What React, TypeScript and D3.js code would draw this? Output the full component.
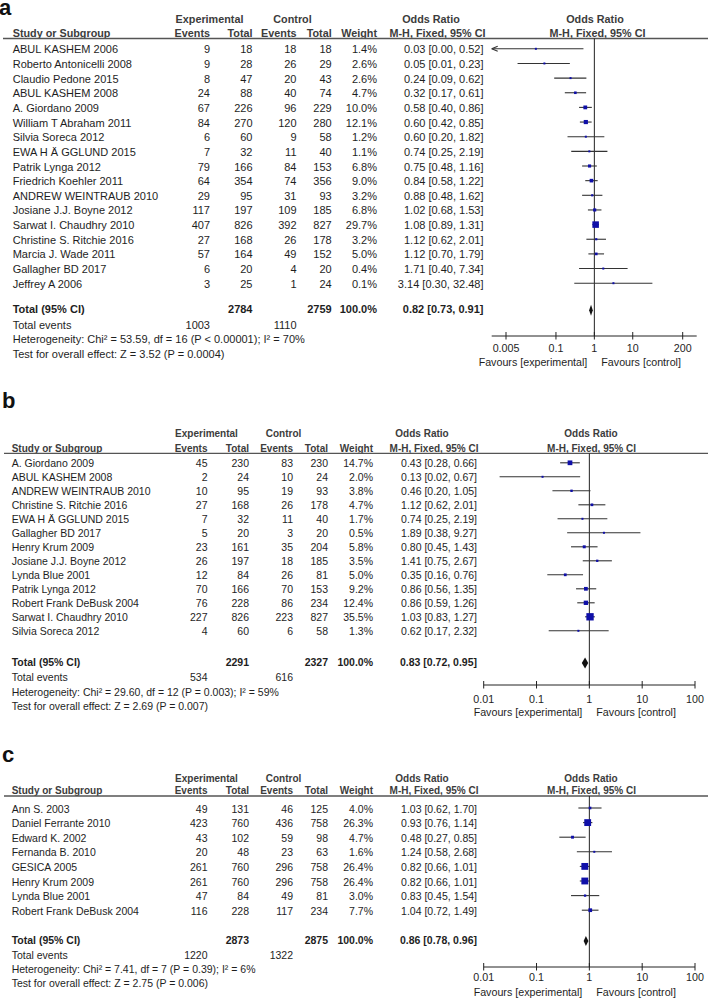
import React from "react";
import * as d3 from "d3";

// ---------- Panel a data ----------
const studiesA = [
  "ABUL KASHEM 2006", "Roberto Antonicelli 2008", "Claudio Pedone 2015", "ABUL KASHEM  2008",
  "A. Giordano 2009", "William T Abraham 2011", "Silvia Soreca 2012", "EWA H Ä GGLUND 2015",
  "Patrik Lynga 2012", "Friedrich Koehler  2011", "ANDREW WEINTRAUB 2010", "Josiane J.J. Boyne 2012",
  "Sarwat I. Chaudhry 2010", "Christine S. Ritchie 2016", "Marcia J. Wade 2011", "Gallagher BD 2017",
  "Jeffrey A  2006",
];
const expEventsA = [9, 9, 8, 24, 67, 84, 6, 7, 79, 64, 29, 117, 407, 27, 57, 6, 3];
const expTotalA = [18, 28, 47, 88, 226, 270, 60, 32, 166, 354, 95, 197, 826, 168, 164, 20, 25];
const ctlEventsA = [18, 26, 20, 40, 96, 120, 9, 11, 84, 74, 31, 109, 392, 26, 49, 4, 1];
const ctlTotalA = [18, 29, 43, 74, 229, 280, 58, 40, 153, 356, 93, 185, 827, 178, 152, 20, 24];
const weightA = [1.4, 2.6, 2.6, 4.7, 10.0, 12.1, 1.2, 1.1, 6.8, 9.0, 3.2, 6.8, 29.7, 3.2, 5.0, 0.4, 0.1];
const orA = [0.03, 0.05, 0.24, 0.32, 0.58, 0.6, 0.6, 0.74, 0.75, 0.84, 0.88, 1.02, 1.08, 1.12, 1.12, 1.71, 3.14];
const loA = [0.0, 0.01, 0.09, 0.17, 0.4, 0.42, 0.2, 0.25, 0.48, 0.58, 0.48, 0.68, 0.89, 0.62, 0.7, 0.4, 0.3];
const hiA = [0.52, 0.23, 0.62, 0.61, 0.86, 0.85, 1.82, 2.19, 1.16, 1.22, 1.62, 1.53, 1.31, 2.01, 1.79, 7.34, 32.48];
const totalsA = [2784, 2759];
const totalEventsA = [1003, 1110];
const totalOrA = [0.82, 0.73, 0.91];
const hetA = "Heterogeneity: Chi² = 53.59, df = 16 (P < 0.00001); I² = 70%";
const testA = "Test for overall effect: Z = 3.52 (P = 0.0004)";
const ticksA = [0.005, 0.1, 1, 10, 200];
const tickLabelsA = ["0.005", "0.1", "1", "10", "200"];

// ---------- Panel b data ----------
const studiesB = [
  "A. Giordano 2009", "ABUL KASHEM  2008", "ANDREW WEINTRAUB 2010", "Christine S. Ritchie 2016",
  "EWA H Ä GGLUND 2015", "Gallagher BD 2017", "Henry Krum 2009", "Josiane J.J. Boyne 2012",
  "Lynda Blue 2001", "Patrik Lynga 2012", "Robert Frank DeBusk 2004", "Sarwat I. Chaudhry 2010",
  "Silvia Soreca 2012",
];
const expEventsB = [45, 2, 10, 27, 7, 5, 23, 26, 12, 70, 76, 227, 4];
const expTotalB = [230, 24, 95, 168, 32, 20, 161, 197, 84, 166, 228, 826, 60];
const ctlEventsB = [83, 10, 19, 26, 11, 3, 35, 18, 26, 70, 86, 223, 6];
const ctlTotalB = [230, 24, 93, 178, 40, 20, 204, 185, 81, 153, 234, 827, 58];
const weightB = [14.7, 2.0, 3.8, 4.7, 1.7, 0.5, 5.8, 3.5, 5.0, 9.2, 12.4, 35.5, 1.3];
const orB = [0.43, 0.13, 0.46, 1.12, 0.74, 1.89, 0.8, 1.41, 0.35, 0.86, 0.86, 1.03, 0.62];
const loB = [0.28, 0.02, 0.2, 0.62, 0.25, 0.38, 0.45, 0.75, 0.16, 0.56, 0.59, 0.83, 0.17];
const hiB = [0.66, 0.67, 1.05, 2.01, 2.19, 9.27, 1.43, 2.67, 0.76, 1.35, 1.26, 1.27, 2.32];
const totalsB = [2291, 2327];
const totalEventsB = [534, 616];
const totalOrB = [0.83, 0.72, 0.95];
const hetB = "Heterogeneity: Chi² = 29.60, df = 12 (P = 0.003); I² = 59%";
const testB = "Test for overall effect: Z = 2.69 (P = 0.007)";
const ticksB = [0.01, 0.1, 1, 10, 100];
const tickLabelsB = ["0.01", "0.1", "1", "10", "100"];

// ---------- Panel c data ----------
const studiesC = [
  "Ann S. 2003", "Daniel Ferrante 2010", "Edward K. 2002", "Fernanda B.  2010",
  "GESICA 2005", "Henry Krum 2009", "Lynda Blue 2001", "Robert Frank DeBusk 2004",
];
const expEventsC = [49, 423, 43, 20, 261, 261, 47, 116];
const expTotalC = [131, 760, 102, 48, 760, 760, 84, 228];
const ctlEventsC = [46, 436, 59, 23, 296, 296, 49, 117];
const ctlTotalC = [125, 758, 98, 63, 758, 758, 81, 234];
const weightC = [4.0, 26.3, 4.7, 1.6, 26.4, 26.4, 3.0, 7.7];
const orC = [1.03, 0.93, 0.48, 1.24, 0.82, 0.82, 0.83, 1.04];
const loC = [0.62, 0.76, 0.27, 0.58, 0.66, 0.66, 0.45, 0.72];
const hiC = [1.7, 1.14, 0.85, 2.68, 1.01, 1.01, 1.54, 1.49];
const totalsC = [2873, 2875];
const totalEventsC = [1220, 1322];
const totalOrC = [0.86, 0.78, 0.96];
const hetC = "Heterogeneity: Chi² = 7.41, df = 7 (P = 0.39); I² = 6%";
const testC = "Test for overall effect: Z = 2.75 (P = 0.006)";
const ticksC = [0.01, 0.1, 1, 10, 100];
const tickLabelsC = ["0.01", "0.1", "1", "10", "100"];

const FONT = "'Liberation Sans', Arial, Helvetica, sans-serif";
const TEXT = "#1e1e1e";
const HEAD = "#3c3c3c";
const BLUE = "#0f0fa8";

const fmt2 = (v: number) => v.toFixed(2);
const orText = (o: number, l: number, h: number) => `${fmt2(o)} [${fmt2(l)}, ${fmt2(h)}]`;

function Panel({ d, L }: { d: any; L: any }) {
  const x = d3.scaleLog().domain([d.ticks[0], d.ticks[d.ticks.length - 1]]).range(L.range);
  const axL = L.range[0] - L.pad[0];
  const axR = L.range[1] + L.pad[1];
  const sq = d3.scaleSqrt().domain([0, 36]).range([0, L.sqMax]);
  const rowY = (i: number) => L.row0 + i * L.rowStep;
  const x1 = x(1);
  const fs = L.font;
  const T = (props: any) => (
    <text fontFamily={FONT} fontSize={fs} fill={TEXT} {...props} />
  );
  const H = (props: any) => (
    <text fontFamily={FONT} fontSize={L.hfont} fontWeight="bold" fill={HEAD} {...props} />
  );
  const C = L.cols;
  return (
    <g>
      <text x={L.letterX} y={L.letterY} fontFamily={FONT} fontSize={22} fontWeight="bold" fill="#111">
        {d.label}
      </text>
      {/* header */}
      <H x={L.h1.exp} y={L.h1Y} textAnchor="middle">Experimental</H>
      <H x={L.h1.ctl} y={L.h1Y} textAnchor="middle">Control</H>
      <H x={L.h1.orCol} y={L.h1Y} textAnchor="middle">Odds Ratio</H>
      <H x={L.h1.orPlot} y={L.h1Y} textAnchor="middle">Odds Ratio</H>
      <H x={C.name} y={L.h2Y}>Study or Subgroup</H>
      <H x={C.expEv} y={L.h2Y} textAnchor="end">Events</H>
      <H x={C.expTot} y={L.h2Y} textAnchor="end">Total</H>
      <H x={C.ctlEv} y={L.h2Y} textAnchor="end">Events</H>
      <H x={C.ctlTot} y={L.h2Y} textAnchor="end">Total</H>
      <H x={C.weight} y={L.h2Y} textAnchor="end">Weight</H>
      <H x={L.h2.mhCol} y={L.h2Y} textAnchor="middle">M-H, Fixed, 95% CI</H>
      <H x={L.h2.mhPlot} y={L.h2Y} textAnchor="middle">M-H, Fixed, 95% CI</H>
      <line x1={L.lineX0} x2={708} y1={L.lineY} y2={L.lineY} stroke="#555" strokeWidth={1.3} />
      {/* rows */}
      {d.studies.map((s: string, i: number) => {
        const y = rowY(i);
        return (
          <g key={i}>
            <T x={C.name} y={y}>{s}</T>
            <T x={C.expEv} y={y} textAnchor="end">{d.expEv[i]}</T>
            <T x={C.expTot} y={y} textAnchor="end">{d.expTot[i]}</T>
            <T x={C.ctlEv} y={y} textAnchor="end">{d.ctlEv[i]}</T>
            <T x={C.ctlTot} y={y} textAnchor="end">{d.ctlTot[i]}</T>
            <T x={C.weight} y={y} textAnchor="end">{d.weight[i].toFixed(1)}%</T>
            <T x={C.or} y={y} textAnchor="end">{orText(d.or[i], d.lo[i], d.hi[i])}</T>
          </g>
        );
      })}
      {/* totals */}
      <T x={C.name} y={L.totalY} fontWeight="bold">Total (95% CI)</T>
      <T x={C.expTot} y={L.totalY} textAnchor="end" fontWeight="bold">{d.totals[0]}</T>
      <T x={C.ctlTot} y={L.totalY} textAnchor="end" fontWeight="bold">{d.totals[1]}</T>
      <T x={C.weight} y={L.totalY} textAnchor="end" fontWeight="bold">100.0%</T>
      <T x={C.or} y={L.totalY} textAnchor="end" fontWeight="bold">
        {orText(d.totalOr[0], d.totalOr[1], d.totalOr[2])}
      </T>
      <T x={C.name} y={L.teY}>Total events</T>
      <T x={C.expEv} y={L.teY} textAnchor="end">{d.totalEvents[0]}</T>
      <T x={C.ctlEv} y={L.teY} textAnchor="end">{d.totalEvents[1]}</T>
      <T x={C.name} y={L.hetY}>{d.het}</T>
      <T x={C.name} y={L.testY}>{d.test}</T>
      {/* plot */}
      <line x1={x1} x2={x1} y1={L.lineY} y2={L.axisY} stroke="#222" strokeWidth={1} />
      {d.studies.map((s: string, i: number) => {
        const y = rowY(i) + L.markDy;
        const clipped = !(d.lo[i] > 0) || x(d.lo[i]) < axL;
        const xl = clipped ? axL : x(d.lo[i]);
        const xh = Math.min(x(d.hi[i]), axR);
        const side = Math.max(2, sq(d.weight[i]));
        return (
          <g key={"m" + i}>
            <line x1={xl} x2={xh} y1={y} y2={y} stroke="#333" strokeWidth={1.1} />
            {clipped && (
              <path d={`M${xl},${y} L${xl + 6},${y - 2.5} M${xl},${y} L${xl + 6},${y + 2.5}`} stroke="#333" strokeWidth={1.1} fill="none" />
            )}
            <rect x={x(d.or[i]) - side / 2} y={y - side / 2} width={side} height={side} fill={BLUE} />
          </g>
        );
      })}
      {(() => {
        const y = L.totalY + L.diaDy;
        const [o, l, h] = d.totalOr;
        return (
          <path
            d={`M${x(l)},${y} L${x(o)},${y - L.diaH} L${x(h)},${y} L${x(o)},${y + L.diaH} Z`}
            fill="#111"
          />
        );
      })()}
      {/* axis */}
      <line x1={axL} x2={axR} y1={L.axisY} y2={L.axisY} stroke="#222" strokeWidth={1} />
      {d.ticks.map((t: number, i: number) => (
        <g key={"t" + i}>
          <line x1={x(t)} x2={x(t)} y1={L.axisY - 4} y2={L.axisY + 3.5} stroke="#222" strokeWidth={1} />
          <T x={x(t)} y={L.tickY} textAnchor="middle" fontSize={L.afont}>{d.tickLabels[i]}</T>
        </g>
      ))}
      <T x={x1 - 7} y={L.favY} textAnchor="end" fontSize={L.afont}>Favours [experimental]</T>
      <T x={x1 + 7} y={L.favY} fontSize={L.afont}>Favours [control]</T>
    </g>
  );
}

const dataA = {
  label: "a", studies: studiesA, expEv: expEventsA, expTot: expTotalA, ctlEv: ctlEventsA, ctlTot: ctlTotalA,
  weight: weightA, or: orA, lo: loA, hi: hiA, totals: totalsA, totalEvents: totalEventsA, totalOr: totalOrA,
  het: hetA, test: testA, ticks: ticksA, tickLabels: tickLabelsA,
};
const dataB = {
  label: "b", studies: studiesB, expEv: expEventsB, expTot: expTotalB, ctlEv: ctlEventsB, ctlTot: ctlTotalB,
  weight: weightB, or: orB, lo: loB, hi: hiB, totals: totalsB, totalEvents: totalEventsB, totalOr: totalOrB,
  het: hetB, test: testB, ticks: ticksB, tickLabels: tickLabelsB,
};
const dataC = {
  label: "c", studies: studiesC, expEv: expEventsC, expTot: expTotalC, ctlEv: ctlEventsC, ctlTot: ctlTotalC,
  weight: weightC, or: orC, lo: loC, hi: hiC, totals: totalsC, totalEvents: totalEventsC, totalOr: totalOrC,
  het: hetC, test: testC, ticks: ticksC, tickLabels: tickLabelsC,
};

const layoutA = {
  letterX: -1, letterY: 14.5, h1Y: 23, h2Y: 37.3, lineY: 38.5, lineX0: 3,
  row0: 53.3, rowStep: 14.65, totalY: 313.3, teY: 329, hetY: 343.3, testY: 358,
  axisY: 336, tickY: 351.5, favY: 366, font: 11, hfont: 10.8, afont: 10.7,
  cols: { name: 12.7, expEv: 210, expTot: 252.5, ctlEv: 296.5, ctlTot: 331.7, weight: 377, or: 483.5 },
  h1: { exp: 209.5, ctl: 292.5, orCol: 431, orPlot: 595 },
  h2: { mhCol: 437.5, mhPlot: 597.5 },
  range: [506, 682.7], pad: [14.3, 14], markDy: -4.5, sqMax: 7.2, diaDy: -3, diaH: 5.5,
};
const layoutB = {
  letterX: 2, letterY: 408, h1Y: 437, h2Y: 452, lineY: 453.3, lineX0: 4,
  row0: 467.3, rowStep: 14.0, totalY: 666, teY: 681, hetY: 696, testY: 710,
  axisY: 685, tickY: 703, favY: 716, font: 10.5, hfont: 10, afont: 10.7,
  cols: { name: 11.7, expEv: 207.5, expTot: 249, ctlEv: 293, ctlTot: 328, weight: 373, or: 477 },
  h1: { exp: 206.5, ctl: 283.5, orCol: 422, orPlot: 591 },
  h2: { mhCol: 434, mhPlot: 591.5 },
  range: [483.7, 695], pad: [0, 0], markDy: -4.5, sqMax: 7.4, diaDy: -3, diaH: 5.5,
};
const layoutC = {
  letterX: 2, letterY: 762, h1Y: 782, h2Y: 794, lineY: 796, lineX0: 4,
  row0: 812.5, rowStep: 14.6, totalY: 944, teY: 959, hetY: 973, testY: 987,
  axisY: 967, tickY: 981, favY: 996, font: 10.5, hfont: 10, afont: 10.7,
  cols: { name: 11.7, expEv: 207.5, expTot: 249, ctlEv: 293, ctlTot: 328, weight: 373, or: 477 },
  h1: { exp: 206.5, ctl: 283.5, orCol: 422, orPlot: 591 },
  h2: { mhCol: 434, mhPlot: 591.5 },
  range: [483.7, 695], pad: [0, 0], markDy: -4.5, sqMax: 8, diaDy: -3, diaH: 5,
};

export default function App() {
  return (
    <svg
      width={708}
      height={998}
      viewBox="0 0 708 998"
      style={{ position: "absolute", left: 0, top: 0, background: "#fff" }}
    >
      <rect x={0} y={0} width={708} height={998} fill="#fff" />
      <Panel d={dataA} L={layoutA} />
      <Panel d={dataB} L={layoutB} />
      <Panel d={dataC} L={layoutC} />
    </svg>
  );
}
